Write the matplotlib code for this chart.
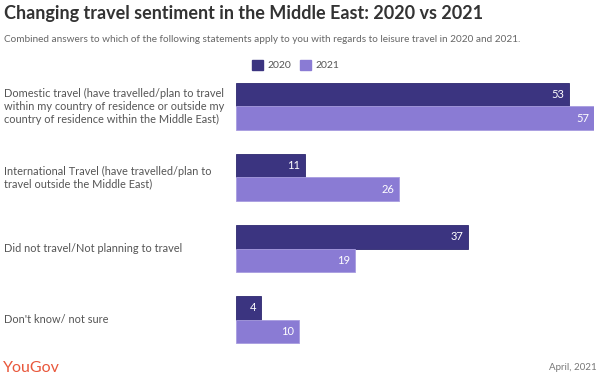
import matplotlib.pyplot as plt
import matplotlib.transforms as mtransforms
from matplotlib.patches import Rectangle

categories = [
    "Domestic travel (have travelled/plan to travel\nwithin my country of residence or outside my\ncountry of residence within the Middle East)",
    "International Travel (have travelled/plan to\ntravel outside the Middle East)",
    "Did not travel/Not planning to travel",
    "Don't know/ not sure",
]
values_2020 = [53, 11, 37, 4]
values_2021 = [57, 26, 19, 10]
series_names = ["2020", "2021"]

c2020 = "#3b3480"
c2021 = "#8a7bd4"
W, H = 602, 382

plt.rcParams['font.family'] = ['Lato', 'DejaVu Sans']

fig = plt.figure(figsize=(W / 100, H / 100), dpi=100)
ax = fig.add_axes([236 / W, 1 - 346 / H, (594 - 236) / W, (346 - 80) / H])

bh = 0.335
for i, (a, b) in enumerate(zip(values_2020, values_2021)):
    ax.barh(i - bh / 2, a, height=bh, color=c2020, edgecolor="#2e2870", linewidth=0.6)
    ax.barh(i + bh / 2, b, height=bh, color=c2021, edgecolor="#a89ce0", linewidth=0.6)
    ax.text(a - 0.8, i - bh / 2, str(a), color="white", ha="right", va="center", fontsize=8)
    ax.text(b - 0.8, i + bh / 2, str(b), color="white", ha="right", va="center", fontsize=8)

# category labels on the left
trans = mtransforms.blended_transform_factory(fig.transFigure, ax.transData)
for i, cat in enumerate(categories):
    ax.text(4 / W, i, cat, transform=trans, ha="left", va="center",
            fontsize=7.9, color="#555555", linespacing=1.2)

ax.set_xlim(0, 57)
ax.set_ylim(3.373, -0.373)
ax.axis("off")

# title and subtitle
fig.text(4 / W, 1 - 14 / H, "Changing travel sentiment in the Middle East: 2020 vs 2021",
         fontsize=13, fontweight="bold", color="#333333", va="center")
fig.text(4 / W, 1 - 40 / H,
         "Combined answers to which of the following statements apply to you with regards to leisure travel in 2020 and 2021.",
         fontsize=7.2, color="#666666", va="center")

# legend
for x0, col, name in [(252, c2020, series_names[0]), (300, c2021, series_names[1])]:
    fig.patches.append(Rectangle((x0 / W, 1 - 70 / H), 11 / W, 10 / H,
                                 transform=fig.transFigure, color=col))
    fig.text((x0 + 15) / W, 1 - 65 / H, name, fontsize=7.5, color="#555555", va="center")

# footer
fig.text(3 / W, 1 - 368 / H, "YouGov", fontsize=11.5, color="#e9573b", va="center")
fig.text(597 / W, 1 - 368 / H, "April, 2021", fontsize=7, color="#777777", va="center", ha="right")

fig.savefig("out.png", dpi=100)
